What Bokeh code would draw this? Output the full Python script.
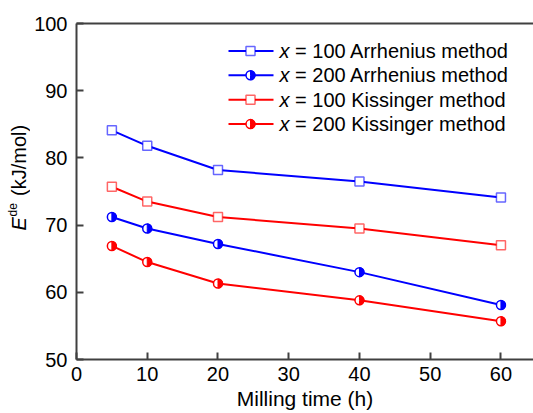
import numpy as np
from bokeh.plotting import figure
from bokeh.layouts import row
from bokeh.models import Label, LinearAxis, FixedTicker, Range1d
from bokeh.embed import file_html
from bokeh.resources import INLINE

# ---- data ----
milling_time = [5, 10, 20, 40, 60]
arr_x100 = [84.1, 81.8, 78.2, 76.5, 74.1]
arr_x200 = [71.2, 69.5, 67.2, 63.0, 58.1]
kis_x100 = [75.7, 73.5, 71.2, 69.5, 67.0]
kis_x200 = [66.9, 64.5, 61.3, 58.8, 55.7]
series_labels = ["\u00a0= 100 Arrhenius method", "\u00a0= 200 Arrhenius method",
                 "\u00a0= 100 Kissinger method", "\u00a0= 200 Kissinger method"]
x_ticks = [0, 10, 20, 30, 40, 50, 60]
y_ticks = [50, 60, 70, 80, 90, 100]

# ---- layout constants ----
W, H = 533, 413
LW = 30                      # narrow strip holding the y-axis title
FL, FT, FB = 76, 23, 359     # frame edges in page pixels
X0, X1 = 0, 64.6
Y0, Y1 = 50, 100
FONT = "Liberation Sans"
FS = "20px"
BLUE, RED = "#0000ff", "#ff0000"
AX_COL = "#404040"

MW = W - LW                  # main figure width
ML = FL - LW                 # main figure left border


def dx(px):
    # page px -> data x (main figure)
    return X0 + (px - FL) / (W - FL) * (X1 - X0)


def dy(py):
    return Y0 + (FB - py) / (FB - FT) * (Y1 - Y0)


p = figure(width=MW, height=H, output_backend="svg", toolbar_location=None,
           x_range=Range1d(X0, X1), y_range=Range1d(Y0, Y1),
           min_border_left=ML, min_border_top=FT, min_border_right=0,
           min_border_bottom=H - FB)
p.outline_line_color = None
p.xgrid.visible = False
p.ygrid.visible = False

for ax, ticks in ((p.xaxis[0], x_ticks), (p.yaxis[0], y_ticks)):
    ax.ticker = FixedTicker(ticks=ticks)
    ax.minor_tick_line_color = None
    ax.major_tick_in = 7
    ax.major_tick_out = 0
    ax.major_tick_line_color = AX_COL
    ax.major_tick_line_width = 2
    ax.axis_line_color = AX_COL
    ax.axis_line_width = 2
    ax.major_label_text_font = FONT
    ax.major_label_text_font_size = FS
    ax.major_label_text_color = "black"

p.xaxis.major_label_standoff = 7
p.yaxis.major_label_standoff = 9
p.xaxis.axis_label = "Milling time (h)"
p.xaxis.axis_label_text_font = FONT
p.xaxis.axis_label_text_font_size = "21px"
p.xaxis.axis_label_text_font_style = "normal"
p.xaxis.axis_label_text_color = "black"
p.xaxis.axis_label_standoff = 3

top_axis = LinearAxis(ticker=FixedTicker(ticks=[]), axis_line_color=AX_COL,
                      axis_line_width=2, major_tick_line_color=None,
                      minor_tick_line_color=None)
p.add_layout(top_axis, "above")


# ---- series ----
def half_marker(xs, ys, color, size=9):
    p.scatter(xs, ys, marker="circle", size=size, fill_color="white",
              line_color=color, line_width=1.5)
    p.wedge(xs, ys, radius=size / 2, radius_units="screen",
            start_angle=-np.pi / 2, end_angle=np.pi / 2,
            fill_color=color, line_color=color, line_width=1)


def square_marker(xs, ys, color, size=9):
    p.scatter(xs, ys, marker="square", size=size, fill_color="white",
              line_color=color, line_alpha=0.6, line_width=1.5)


series = [(arr_x100, BLUE, "sq"), (arr_x200, BLUE, "half"),
          (kis_x100, RED, "sq"), (kis_x200, RED, "half")]

for ys, col, kind in series:
    p.line(milling_time, ys, line_color=col, line_width=2)
    if kind == "sq":
        square_marker(milling_time, ys, col)
    else:
        half_marker(milling_time, ys, col)

# ---- legend (manual) ----
row_y = [50.5, 74.8, 99.2, 123.6]
for (ys, col, kind), lab, ry in zip(series, series_labels, row_y):
    yy = dy(ry)
    p.line([dx(228), dx(273)], [yy, yy], line_color=col, line_width=2)
    if kind == "sq":
        square_marker([dx(250)], [yy], col)
    else:
        half_marker([dx(250)], [yy], col)
    p.add_layout(Label(x=279 - LW, y=ry, x_units="canvas", y_units="canvas",
                       text="x", text_font=FONT,
                       text_font_size=FS, text_font_style="italic",
                       text_baseline="middle", text_align="left",
                       text_color="black"))
    p.add_layout(Label(x=289 - LW, y=ry, x_units="canvas", y_units="canvas",
                       text=lab, text_font=FONT,
                       text_font_size=FS, text_baseline="middle",
                       text_align="left", text_color="black"))

# ---- y-axis title in a narrow strip on the left ----
q = figure(width=LW, height=H, output_backend="svg", toolbar_location=None,
           x_range=Range1d(0, LW), y_range=Range1d(0, H),
           min_border=0, x_axis_type=None, y_axis_type=None)
q.outline_line_color = None
q.xgrid.visible = False
q.ygrid.visible = False
q.add_layout(Label(x=18, y=230, x_units="canvas", y_units="canvas",
                   text="E", angle=np.pi / 2,
                   text_font=FONT, text_font_size=FS, text_font_style="italic",
                   text_baseline="middle", text_align="left", text_color="black"))
q.add_layout(Label(x=12.5, y=216, x_units="canvas", y_units="canvas",
                   text="de", angle=np.pi / 2,
                   text_font=FONT, text_font_size="12px",
                   text_baseline="middle", text_align="left", text_color="black"))
q.add_layout(Label(x=18, y=201, x_units="canvas", y_units="canvas",
                   text="\u00a0(kJ/mol)", angle=np.pi / 2,
                   text_font=FONT, text_font_size=FS,
                   text_baseline="middle", text_align="left", text_color="black"))

layout = row(q, p, spacing=0)
open("out.html", "w").write(file_html(layout, INLINE))
